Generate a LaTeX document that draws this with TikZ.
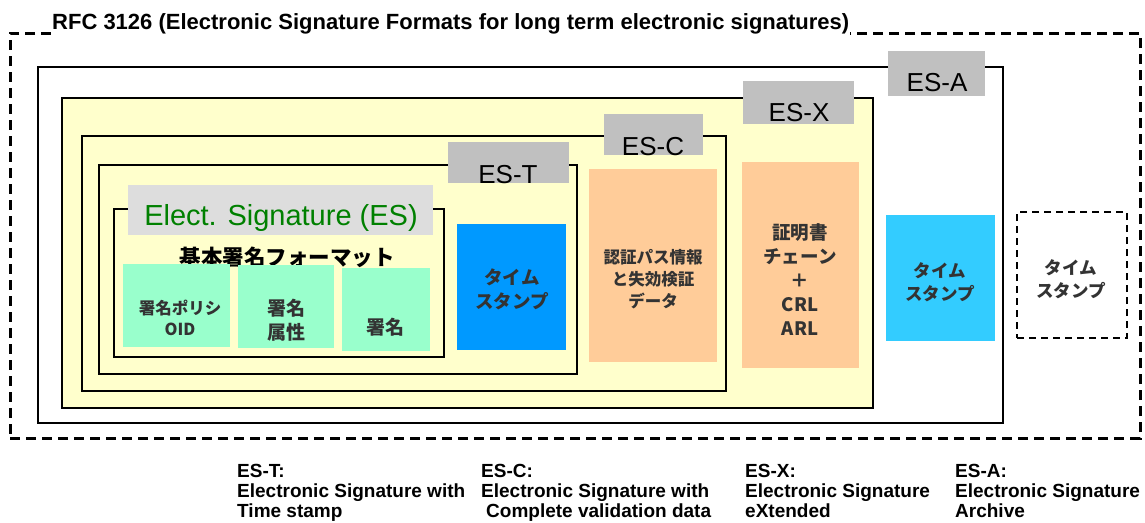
\documentclass[tikz,border=0pt]{standalone}
\usepackage{fontspec}
\setmainfont{Liberation Sans}
\newfontfamily\jp{Noto Sans CJK JP}
\definecolor{paleyellow}{HTML}{FFFFCC}
\definecolor{labgray}{HTML}{C0C0C0}
\definecolor{lightgray2}{HTML}{DDDDDD}
\definecolor{mint}{HTML}{99FFCC}
\definecolor{tsblue}{HTML}{0099FF}
\definecolor{tsblue2}{HTML}{33CCFF}
\definecolor{peach}{HTML}{FFCC99}
\definecolor{sgreen}{HTML}{008000}
\definecolor{txt}{HTML}{333333}
\begin{document}
\begin{tikzpicture}[x=1pt,y=-1pt,
  box/.style={anchor=north west,inner sep=0pt,outer sep=0pt},
  frame/.style={box,draw=black,line width=2.5pt},
  lab/.style={box,fill=labgray},
  labtxt/.style={font=\fontsize{26}{30}\selectfont,text=black,inner sep=0pt},
  jtxt/.style={font=\jp\bfseries\fontsize{17}{23}\selectfont,text=txt,align=center,inner sep=0pt},
  note/.style={anchor=north west,font=\bfseries\fontsize{19}{20}\selectfont,align=left,inner sep=0pt}]
\useasboundingbox (0,0) rectangle (1145,522);
% outer dashed frame
\node[box,draw=black,line width=3pt,dash pattern=on 10pt off 6pt,minimum width=1130pt,minimum height=405pt] (rfc) at (10,33) {};
\node[fill=white,inner sep=1pt,anchor=west,font=\bfseries\fontsize{22}{25}\selectfont] (rfctitle) at (51,24) {RFC 3126 (Electronic Signature Formats for long term electronic signatures)};
% ES-A
\node[frame,fill=white,minimum width=965pt,minimum height=356pt] (esa) at (38,67) {};
\node[lab,minimum width=97pt,minimum height=45pt] (esalab) at (888,51) {};
\node[labtxt] (esatxt) at (937,83) {ES-A};
% ES-X
\node[frame,fill=paleyellow,minimum width=811pt,minimum height=310pt] (esx) at (62,98) {};
\node[lab,minimum width=111pt,minimum height=43pt] (esxlab) at (743,81) {};
\node[labtxt] (esxtxt) at (799,113) {ES-X};
% ES-C
\node[frame,fill=paleyellow,minimum width=644pt,minimum height=255pt] (esc) at (82,136) {};
\node[lab,minimum width=99pt,minimum height=41pt] (esclab) at (604,114) {};
\node[labtxt] (esctxt) at (653,147) {ES-C};
% ES-T
\node[frame,fill=paleyellow,minimum width=478pt,minimum height=209pt] (est) at (99,165) {};
\node[lab,minimum width=121pt,minimum height=41pt] (estlab) at (448,142) {};
\node[labtxt] (esttxt) at (508,175) {ES-T};
% ES
\node[frame,fill=paleyellow,minimum width=330pt,minimum height=148pt] (es) at (114,209) {};
\node[box,fill=lightgray2,minimum width=305pt,minimum height=50pt] (eslab) at (128,185) {};
\node[font=\fontsize{29}{33}\selectfont,text=sgreen,inner sep=0pt] (estitle) at (281,218) {Elect. Signature (ES)};
\node[font=\jp\bfseries\fontsize{21.5}{24}\selectfont,inner sep=0pt] (basic) at (287,257) {基本署名フォーマット};
% ES contents
\node[box,fill=mint,minimum width=107pt,minimum height=83pt] (pol) at (123,264) {};
\node[jtxt,font=\jp\bfseries\fontsize{16.5}{21}\selectfont] (poltxt) at (180,318) {署名ポリシ\\OID};
\node[box,fill=mint,minimum width=96pt,minimum height=83pt] (attr) at (238,265) {};
\node[jtxt,font=\jp\bfseries\fontsize{19}{24}\selectfont] (attrtxt) at (286,320) {署名\\属性};
\node[box,fill=mint,minimum width=88pt,minimum height=83pt] (sig) at (342,268) {};
\node[jtxt,font=\jp\bfseries\fontsize{19}{24}\selectfont] (sigtxt) at (385,327) {署名};
% ES-T time stamp
\node[box,fill=tsblue,minimum width=109pt,minimum height=126pt] (ts1) at (457,224) {};
\node[jtxt,font=\jp\bfseries\fontsize{18.5}{24}\selectfont] (ts1txt) at (512,289) {タイム\\スタンプ};
% ES-C data
\node[box,fill=peach,minimum width=128pt,minimum height=193pt] (cdata) at (589,169) {};
\node[jtxt,font=\jp\bfseries\fontsize{16.5}{22}\selectfont] (cdatatxt) at (653,279) {認証パス情報\\と失効検証\\データ};
% ES-X data
\node[box,fill=peach,minimum width=117pt,minimum height=206pt] (xdata) at (742,162) {};
\node[jtxt,font=\jp\bfseries\fontsize{18.5}{24}\selectfont] (xdatatxt) at (800,280) {証明書\\チェーン\\＋\\CRL\\ARL};
% ES-A time stamp
\node[box,fill=tsblue2,minimum width=109pt,minimum height=126pt] (ts2) at (886,215) {};
\node[jtxt,font=\jp\bfseries\fontsize{17.5}{23}\selectfont] (ts2txt) at (940,282) {タイム\\スタンプ};
% dashed time stamp
\node[box,draw=black,line width=2.5pt,dash pattern=on 7pt off 5pt,minimum width=110pt,minimum height=126pt] (ts3) at (1017,212) {};
\node[jtxt,font=\jp\bfseries\fontsize{17.5}{23}\selectfont] (ts3txt) at (1071,279) {タイム\\スタンプ};
% notes
\node[note] (nt) at (237,464) {ES-T:\\Electronic Signature with\\Time stamp};
\node[note] (nc) at (481,464) {ES-C:\\Electronic Signature with\\\hspace*{5pt}Complete validation data};
\node[note] (nx) at (745,464) {ES-X:\\Electronic Signature\\eXtended};
\node[note] (na) at (955,464) {ES-A:\\Electronic Signature\\Archive};
\end{tikzpicture}
\end{document}
